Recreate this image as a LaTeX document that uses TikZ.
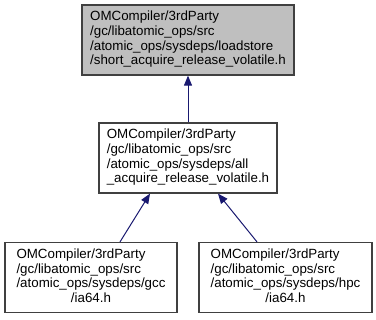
\documentclass[tikz,border=0pt]{standalone}
\usepackage{fontspec}
\setmainfont{Liberation Sans}
\usetikzlibrary{arrows.meta,positioning}
\definecolor{edgeblue}{HTML}{191970}
\definecolor{boxgray}{HTML}{BFBFBF}
\definecolor{boxline}{HTML}{404040}
\newcommand{\edgecolor}{edgeblue}
\newcommand{\px}{0.75pt}
% left-aligned path lines, last line centred
\newcommand{\incpath}[2]{\begin{tabular}{@{}l@{}}#1\\\multicolumn{1}{@{}c@{}}{#2}\end{tabular}}

\begin{document}
\begin{tikzpicture}[x=\px, y=-\px,
  file/.style={draw=boxline, line width=1.2*\px, rectangle, inner sep=0pt,
    font=\fontsize{10pt}{11pt}\selectfont, minimum height=70*\px},
  incl/.style={draw=\edgecolor, line width=1*\px,
    {Triangle[length=10*\px, width=8*\px]}-}]
\useasboundingbox (0,0) rectangle (376,319);
\node[file, fill=boxgray, minimum width=212*\px] (top) at (188, 40)
  {\incpath{OMCompiler/3rdParty\\/gc/libatomic\_ops/src\\/atomic\_ops/sysdeps/loadstore}{/short\_acquire\_release\_volatile.h}};
\node[file, minimum width=178*\px] (mid) at (188, 158)
  {\incpath{OMCompiler/3rdParty\\/gc/libatomic\_ops/src\\/atomic\_ops/sysdeps/all}{\_acquire\_release\_volatile.h}};
\node[file, minimum width=172*\px] (gcc) at (91, 277.5)
  {\incpath{OMCompiler/3rdParty\\/gc/libatomic\_ops/src\\/atomic\_ops/sysdeps/gcc}{/ia64.h}};
\node[file, minimum width=173*\px] (hpc) at (285.5, 277.5)
  {\incpath{OMCompiler/3rdParty\\/gc/libatomic\_ops/src\\/atomic\_ops/sysdeps/hpc}{/ia64.h}};
%includes
\draw[incl] (top) -- (mid);
\draw[incl] ([xshift=-38*\px]mid.south) -- ([xshift=29*\px]gcc.north);
\draw[incl] ([xshift=30*\px]mid.south) -- ([xshift=-28.5*\px]hpc.north);
\end{tikzpicture}
\end{document}
